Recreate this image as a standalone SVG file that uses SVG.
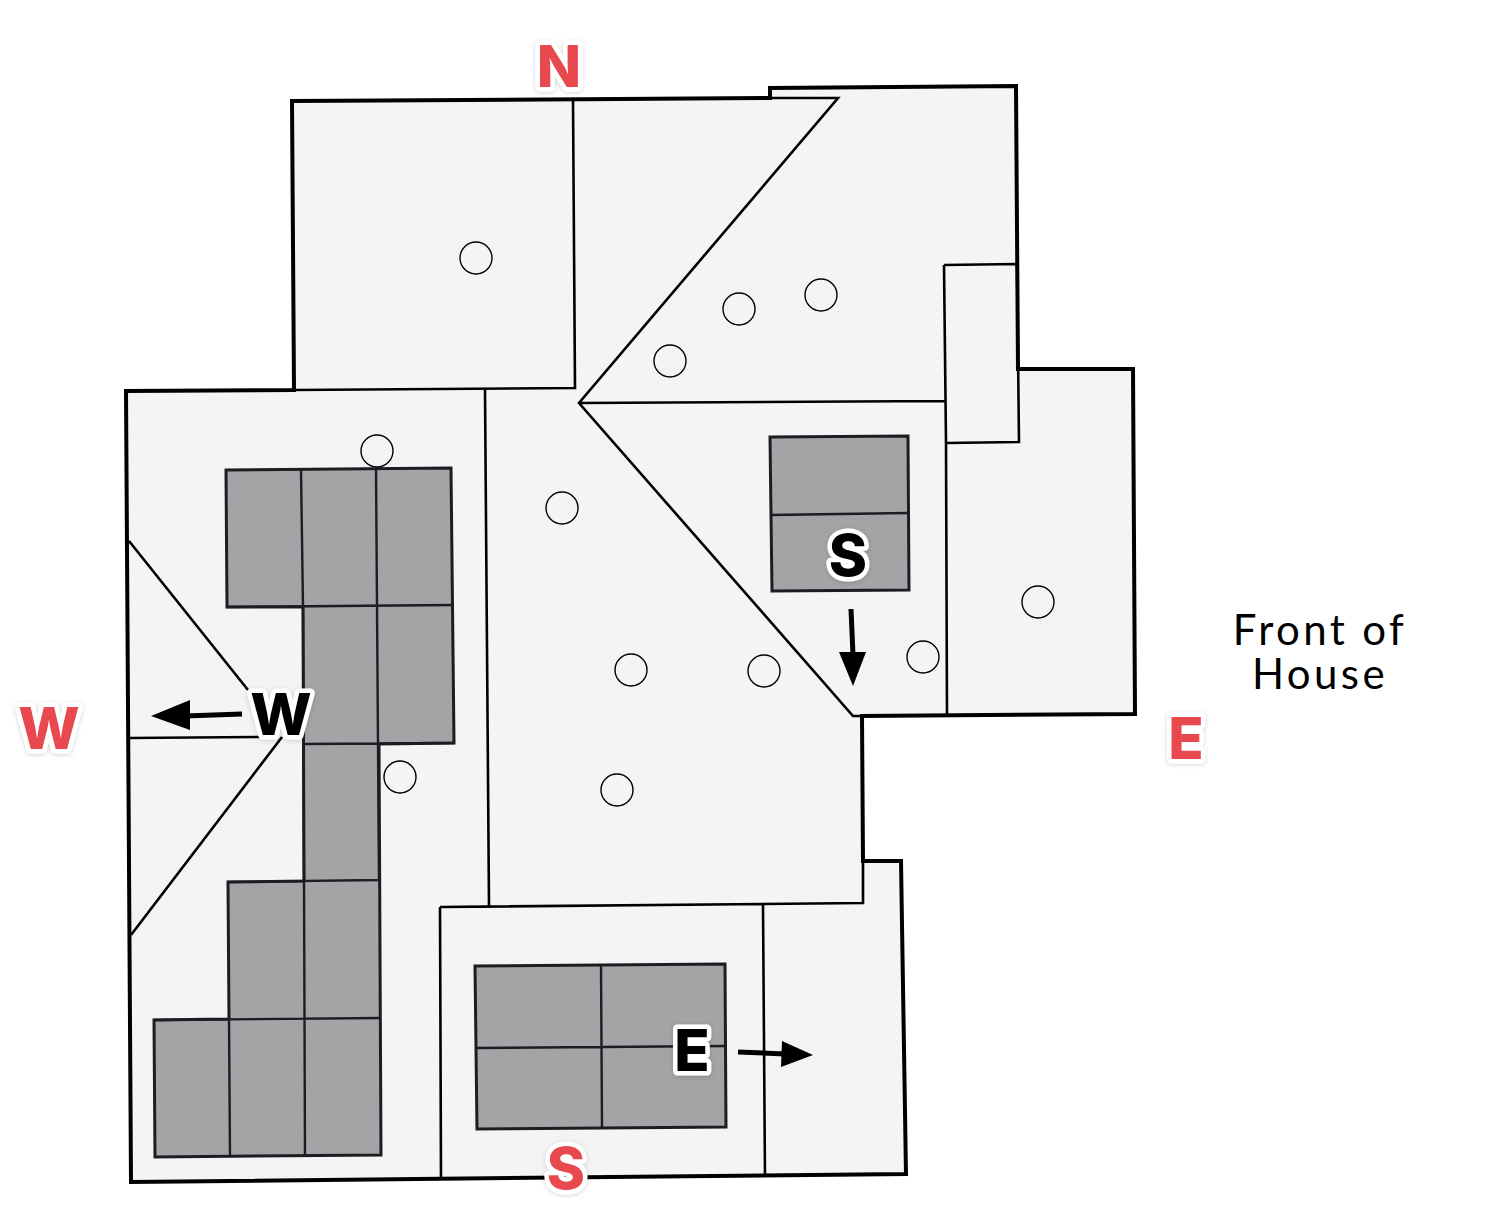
<svg xmlns="http://www.w3.org/2000/svg" width="1492" height="1222" viewBox="0 0 1492 1222">
<defs>
<filter id="sh" x="-30%" y="-30%" width="160%" height="160%"><feDropShadow dx="0" dy="1" stdDeviation="2" flood-color="#000" flood-opacity="0.18"/></filter>
</defs>
<style>
.roof{fill:#f4f4f4;stroke:#000;stroke-width:4;stroke-linejoin:miter}
.ln{fill:none;stroke:#000;stroke-width:2.6}
.pan{fill:#a3a4a6;stroke:#1c1d22;stroke-width:3}
.pl{fill:none;stroke:#1c1d22;stroke-width:2.4}
.vent{fill:none;stroke:#000;stroke-width:1.4}
.ar{stroke:#000;stroke-width:5;fill:none}
.hd{fill:#000}
.lab{font-family:"Inter","Liberation Sans",sans-serif;font-weight:800;font-size:58px;text-anchor:middle;paint-order:stroke;stroke:#fff;stroke-width:9px;stroke-linejoin:round;filter:url(#sh)}
.red{fill:#e84a50}
.blk{fill:#000}
.fh{font-family:"Lato","Liberation Sans",sans-serif;font-size:42px;font-weight:400;text-anchor:middle;fill:#000;letter-spacing:3.4px}
</style>
<g id="roof-outline"><polygon class="roof" points="292,101 770,98 770,88 1016,86 1018,369 1133,369 1135,714 862,716 863,861 901,861 906,1174 131,1182 126,391 294,390"/></g>
<g id="roof-lines">
<path class="ln" d="M573,101L575,388L294,390M485,390L489,906M440,907L863,903L863,861M440,907L441,1180M763,905L765,1177M770,98H838L579,403L853,716H862M579,403L945,401M944,265L1017,264L1019,442L946,443M944,265L946,443L947,715M129,541L248,690M129,738L260,737M131,935L282,737"/>
</g>
<g id="panels-west">
<polygon class="pan" points="226,470 451,468 454,743 379,744 381,1155 155,1157 154,1020 229,1019 228,882 304,881 303,607 227,607"/>
<path class="pl" d="M301,470L303,607M376,469L379,881M227,607L452,605M303,744L454,743M228,882L379,880M154,1020L380,1018M229,1019L230,1157M304,881L305,1156M303,607L304,881"/>
</g>
<g id="panels-south">
<polygon class="pan" points="770,437 908,436 909,590 772,591"/>
<path class="pl" d="M771,515L908,513"/>
</g>
<g id="panels-east">
<polygon class="pan" points="475,966 725,964 726,1127 477,1129"/>
<path class="pl" d="M476,1048L725,1046M601,965L602,1128"/>
</g>
<g id="vents">
<circle class="vent" cx="476" cy="258" r="16"/><circle class="vent" cx="739" cy="309" r="16"/><circle class="vent" cx="821" cy="295" r="16"/><circle class="vent" cx="670" cy="361" r="16"/><circle class="vent" cx="377" cy="451" r="16"/><circle class="vent" cx="562" cy="508" r="16"/><circle class="vent" cx="1038" cy="602" r="16"/><circle class="vent" cx="923" cy="657" r="16"/><circle class="vent" cx="631" cy="670" r="16"/><circle class="vent" cx="764" cy="671" r="16"/><circle class="vent" cx="400" cy="777" r="16"/><circle class="vent" cx="617" cy="790" r="16"/>
</g>
<g id="connectors">
<path class="ar" d="M242,714L185,716"/><polygon class="hd" points="151,716 190,700 190,730"/>
<path class="ar" d="M851,609L853,655"/><polygon class="hd" points="853,686 839,652 866,652"/>
<path class="ar" d="M738,1052L785,1054"/><polygon class="hd" points="813,1055 782,1041 781,1067"/>
</g>
<g id="label-w"><text class="lab blk" x="281" y="735">W</text></g>
<g id="label-s"><text class="lab blk" x="848" y="576">S</text></g>
<g id="label-e"><text class="lab blk" x="692" y="1071">E</text></g>
<g id="compass-n"><text class="lab red" x="559" y="87">N</text></g>
<g id="compass-w"><text class="lab red" x="49" y="749">W</text></g>
<g id="compass-e"><text class="lab red" x="1186" y="759">E</text></g>
<g id="compass-s"><text class="lab red" x="566" y="1189">S</text></g>
<g id="front-label"><text class="fh"><tspan x="1320" y="645">Front of</tspan><tspan x="1320" y="689">House</tspan></text></g>
</svg>
